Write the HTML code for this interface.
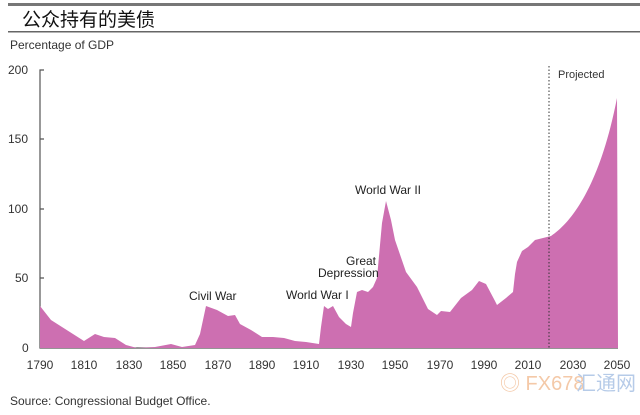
<!DOCTYPE html>
<html><head><meta charset="utf-8"><style>
body{margin:0;background:#fff;width:640px;height:410px;overflow:hidden;font-family:"Liberation Sans","Noto Sans CJK SC",sans-serif}
</style></head><body>
<svg width="640" height="410" viewBox="0 0 640 410" xmlns="http://www.w3.org/2000/svg" font-family="'Liberation Sans','Noto Sans CJK SC',sans-serif">
<rect x="8" y="3" width="632" height="3" fill="#777"/>
<text x="22" y="26" font-size="19" fill="#111">公众持有的美债</text>
<rect x="8" y="31" width="632" height="1.5" fill="#666"/>
<text x="10" y="49" font-size="12" fill="#333">Percentage of GDP</text>
<g font-size="12" fill="#333">
<text x="8" y="74">200</text><text x="8" y="143">150</text><text x="8" y="213">100</text>
<text x="15" y="282">50</text><text x="22" y="352">0</text>
</g>
<g stroke="#555" stroke-width="1.2" fill="none">
<path d="M44,70 H40 V348 H618"/>
<path d="M40,278 H44 M40,209 H44 M40,139 H44"/>
</g>
<path fill="#cd6fb1" d="M40,348 L40,306 L51,320 L62,327 L73,334 L84,341 L95,334 L104,337 L115,338 L126,345 L137,348 L155,347 L171,344 L182,347 L195,345 L200,334 L206,306 L217,310 L228,316 L235,315 L240,324 L251,330 L262,337 L273,337 L284,338 L295,341 L306,342 L319,344 L321,327 L324,306 L328,309 L333,306 L339,317 L346,324 L351,327 L353,313 L357,292 L362,290 L368,292 L373,287 L377,278 L382,223 L386,201 L391,220 L395,240 L406,272 L417,287 L428,309 L437,315 L441,311 L450,312 L461,298 L472,290 L479,281 L486,284 L495,301 L497,305 L506,298 L513,292 L515,274 L517,262 L522,251 L528,247 L535,240 L551,236 C572,222 600,185 617,98 L618,348 Z"/>
<line x1="549" y1="66" x2="549" y2="348" stroke="#333" stroke-width="1" stroke-dasharray="1.5,2"/>
<text x="558" y="78" font-size="11" fill="#333">Projected</text>
<g font-size="12" fill="#222">
<text x="189" y="300">Civil War</text>
<text x="286" y="299">World War I</text>
<text x="346" y="265">Great</text>
<text x="318" y="277">Depression</text>
<text x="355" y="194">World War II</text>
</g>
<g font-size="12" fill="#333" text-anchor="middle">
<text x="40" y="369">1790</text><text x="84" y="369">1810</text><text x="129" y="369">1830</text>
<text x="173" y="369">1850</text><text x="218" y="369">1870</text><text x="262" y="369">1890</text>
<text x="306" y="369">1910</text><text x="351" y="369">1930</text><text x="395" y="369">1950</text>
<text x="440" y="369">1970</text><text x="484" y="369">1990</text><text x="528" y="369">2010</text>
<text x="573" y="369">2030</text><text x="617" y="369">2050</text>
</g>
<text x="500" y="390" font-size="20" fill="#f4c9a8">◎ FX678</text>
<text x="576" y="390" font-size="20" fill="#b6cbe8">汇通网</text>
<text x="10" y="405" font-size="12" fill="#333">Source: Congressional Budget Office.</text>
</svg>
</body></html>
